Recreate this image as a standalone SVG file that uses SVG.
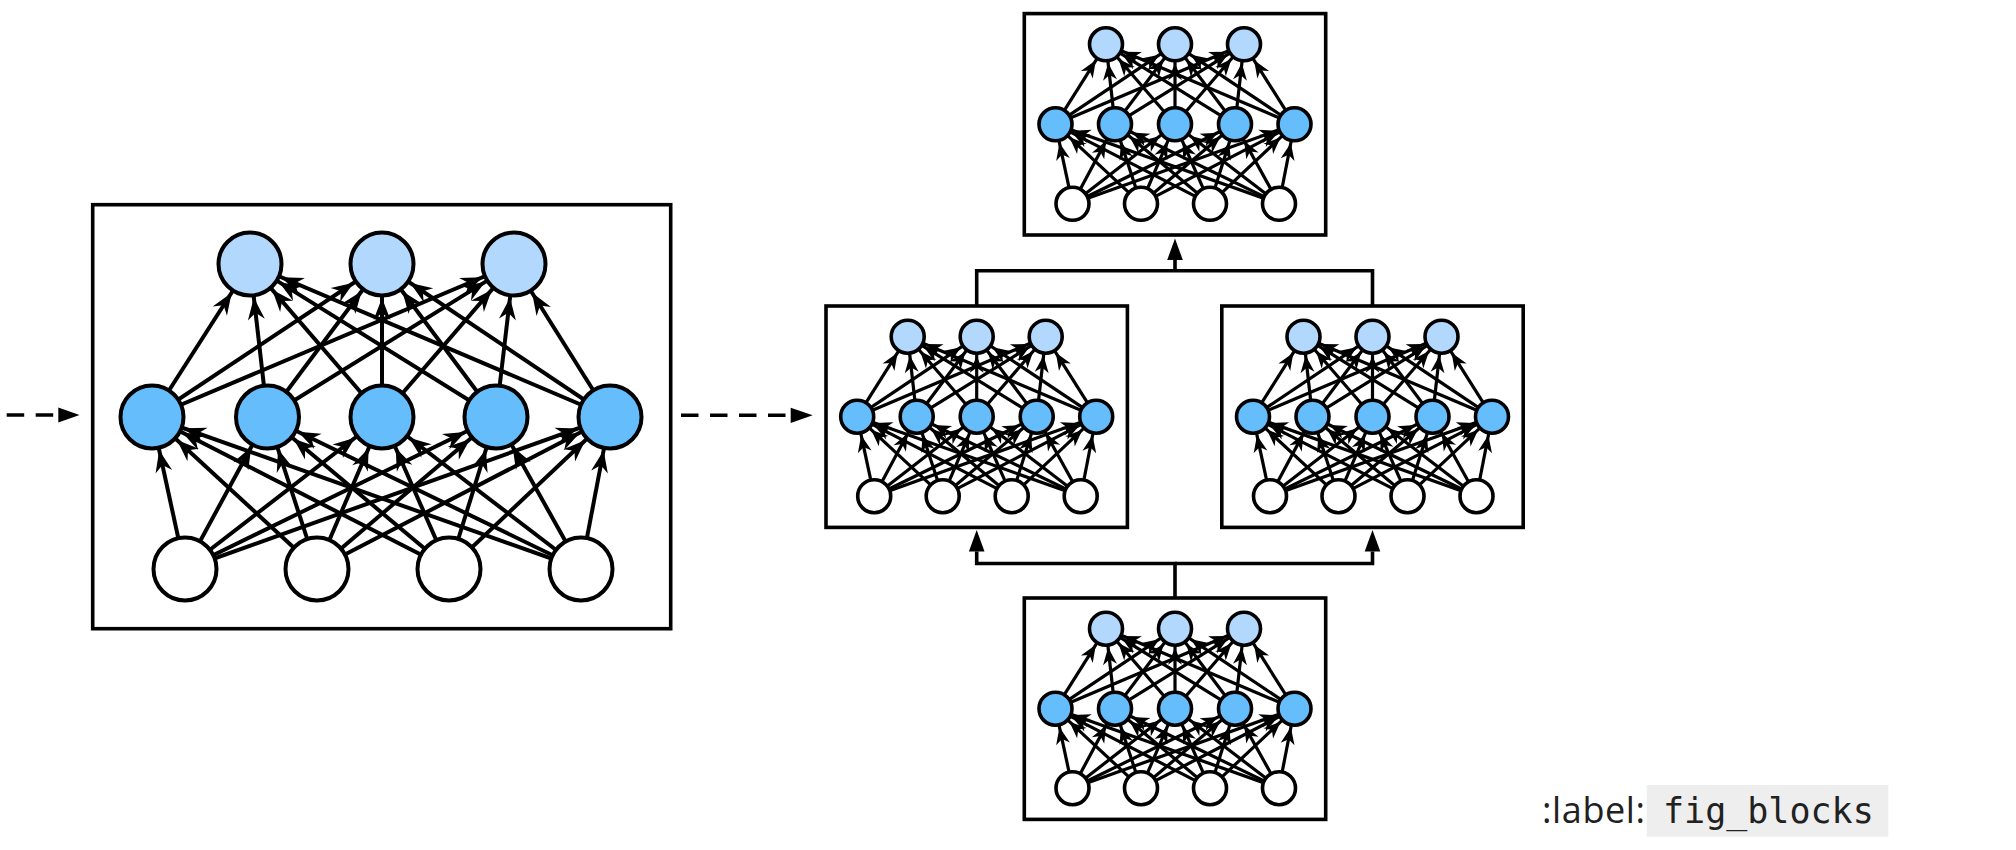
<svg xmlns="http://www.w3.org/2000/svg" xmlns:xlink="http://www.w3.org/1999/xlink" width="2016" height="850" viewBox="0 0 2016 850">
<style>
.box{fill:#fff;stroke:#000}
.out{fill:#b2d8fd;stroke:#000}
.hid{fill:#65bdfc;stroke:#000}
.inp{fill:#fff;stroke:#000}
.head{fill:#000}
.lbl{font-family:"Open Sans","Liberation Sans",sans-serif;font-size:36px;fill:#212121}
.code{font-family:"DejaVu Sans Mono","Liberation Mono",monospace;font-size:35px;fill:#212121}
</style>
<defs>
<marker id="arrowBig" markerUnits="userSpaceOnUse" orient="auto" refX="0" refY="0" markerWidth="70" markerHeight="24" overflow="visible">
<path d="M-34,0 L-56,-8.5 L-49,0 L-56,8.5 Z" fill="#000"/>
</marker>
<marker id="arrowSmall" markerUnits="userSpaceOnUse" orient="auto" refX="0" refY="0" markerWidth="50" markerHeight="18" overflow="visible">
<path d="M-19,0 L-36,-7 L-31,0 L-36,7 Z" fill="#000"/>
</marker>
<marker id="arrowConn" markerUnits="userSpaceOnUse" orient="auto" refX="0" refY="0" markerWidth="24" markerHeight="16" overflow="visible">
<path d="M0,-7.8 L21.5,0 L0,7.8 Z" fill="#000"/>
</marker>
<g id="net-s">
<rect class="box" stroke-width="3.6" x="-150.7" y="-110.7" width="301.4" height="221.4"/>
<g stroke="#000" stroke-width="3.2" marker-end="url(#arrowSmall)">
<line x1="-119.5" y1="0" x2="-69" y2="-80"/>
<line x1="-119.5" y1="0" x2="0" y2="-80"/>
<line x1="-119.5" y1="0" x2="69" y2="-80"/>
<line x1="-60" y1="0" x2="-69" y2="-80"/>
<line x1="-60" y1="0" x2="0" y2="-80"/>
<line x1="-60" y1="0" x2="69" y2="-80"/>
<line x1="0" y1="0" x2="-69" y2="-80"/>
<line x1="0" y1="0" x2="0" y2="-80"/>
<line x1="0" y1="0" x2="69" y2="-80"/>
<line x1="60" y1="0" x2="-69" y2="-80"/>
<line x1="60" y1="0" x2="0" y2="-80"/>
<line x1="60" y1="0" x2="69" y2="-80"/>
<line x1="119.5" y1="0" x2="-69" y2="-80"/>
<line x1="119.5" y1="0" x2="0" y2="-80"/>
<line x1="119.5" y1="0" x2="69" y2="-80"/>
<line x1="-102.5" y1="79.5" x2="-119.5" y2="0"/>
<line x1="-102.5" y1="79.5" x2="-60" y2="0"/>
<line x1="-102.5" y1="79.5" x2="0" y2="0"/>
<line x1="-102.5" y1="79.5" x2="60" y2="0"/>
<line x1="-102.5" y1="79.5" x2="119.5" y2="0"/>
<line x1="-34" y1="79.5" x2="-119.5" y2="0"/>
<line x1="-34" y1="79.5" x2="-60" y2="0"/>
<line x1="-34" y1="79.5" x2="0" y2="0"/>
<line x1="-34" y1="79.5" x2="60" y2="0"/>
<line x1="-34" y1="79.5" x2="119.5" y2="0"/>
<line x1="35" y1="79.5" x2="-119.5" y2="0"/>
<line x1="35" y1="79.5" x2="-60" y2="0"/>
<line x1="35" y1="79.5" x2="0" y2="0"/>
<line x1="35" y1="79.5" x2="60" y2="0"/>
<line x1="35" y1="79.5" x2="119.5" y2="0"/>
<line x1="104" y1="79.5" x2="-119.5" y2="0"/>
<line x1="104" y1="79.5" x2="-60" y2="0"/>
<line x1="104" y1="79.5" x2="0" y2="0"/>
<line x1="104" y1="79.5" x2="60" y2="0"/>
<line x1="104" y1="79.5" x2="119.5" y2="0"/>
</g>
<g stroke-width="3.6">
<circle class="out" cx="-69" cy="-80" r="16.5"/>
<circle class="out" cx="0" cy="-80" r="16.5"/>
<circle class="out" cx="69" cy="-80" r="16.5"/>
<circle class="hid" cx="-119.5" cy="0" r="16.5"/>
<circle class="hid" cx="-60" cy="0" r="16.5"/>
<circle class="hid" cx="0" cy="0" r="16.5"/>
<circle class="hid" cx="60" cy="0" r="16.5"/>
<circle class="hid" cx="119.5" cy="0" r="16.5"/>
<circle class="inp" cx="-102.5" cy="79.5" r="16.5"/>
<circle class="inp" cx="-34" cy="79.5" r="16.5"/>
<circle class="inp" cx="35" cy="79.5" r="16.5"/>
<circle class="inp" cx="104" cy="79.5" r="16.5"/>
</g>
</g>
</defs>

<g id="connectors" fill="none" stroke="#000" stroke-width="3.6">
<line stroke-dasharray="17.5 11.5" x1="6.7" y1="415" x2="58.3" y2="415"/>
<polygon class="head" stroke="none" points="58.3,407.4 79.5,415 58.3,422.6"/>
<line stroke-dasharray="17.5 11.5" x1="681" y1="415.3" x2="790.7" y2="415.3"/>
<polygon class="head" stroke="none" points="790.7,407.7 812.7,415.3 790.7,422.9"/>
<path marker-end="url(#arrowConn)" d="M1175,598 V563.5 H976.7 V551.5"/>
<path marker-end="url(#arrowConn)" d="M1175,563.5 H1372.5 V551.5"/>
<path d="M976.7,306 V270.7 H1372.5 V306"/>
<path marker-end="url(#arrowConn)" d="M1175,270.7 V260"/>
</g>

<g id="block-big">
<rect class="box" stroke-width="3.6" x="92.7" y="204.7" width="578" height="424"/>
<g stroke="#000" stroke-width="4" marker-end="url(#arrowBig)">
<line x1="152" y1="417" x2="250" y2="264"/>
<line x1="152" y1="417" x2="382" y2="264"/>
<line x1="152" y1="417" x2="514" y2="264"/>
<line x1="267.5" y1="417" x2="250" y2="264"/>
<line x1="267.5" y1="417" x2="382" y2="264"/>
<line x1="267.5" y1="417" x2="514" y2="264"/>
<line x1="382" y1="417" x2="250" y2="264"/>
<line x1="382" y1="417" x2="382" y2="264"/>
<line x1="382" y1="417" x2="514" y2="264"/>
<line x1="496" y1="417" x2="250" y2="264"/>
<line x1="496" y1="417" x2="382" y2="264"/>
<line x1="496" y1="417" x2="514" y2="264"/>
<line x1="610" y1="417" x2="250" y2="264"/>
<line x1="610" y1="417" x2="382" y2="264"/>
<line x1="610" y1="417" x2="514" y2="264"/>
<line x1="185" y1="569" x2="152" y2="417"/>
<line x1="185" y1="569" x2="267.5" y2="417"/>
<line x1="185" y1="569" x2="382" y2="417"/>
<line x1="185" y1="569" x2="496" y2="417"/>
<line x1="185" y1="569" x2="610" y2="417"/>
<line x1="317" y1="569" x2="152" y2="417"/>
<line x1="317" y1="569" x2="267.5" y2="417"/>
<line x1="317" y1="569" x2="382" y2="417"/>
<line x1="317" y1="569" x2="496" y2="417"/>
<line x1="317" y1="569" x2="610" y2="417"/>
<line x1="449" y1="569" x2="152" y2="417"/>
<line x1="449" y1="569" x2="267.5" y2="417"/>
<line x1="449" y1="569" x2="382" y2="417"/>
<line x1="449" y1="569" x2="496" y2="417"/>
<line x1="449" y1="569" x2="610" y2="417"/>
<line x1="581" y1="569" x2="152" y2="417"/>
<line x1="581" y1="569" x2="267.5" y2="417"/>
<line x1="581" y1="569" x2="382" y2="417"/>
<line x1="581" y1="569" x2="496" y2="417"/>
<line x1="581" y1="569" x2="610" y2="417"/>
</g>
<g stroke-width="4">
<circle class="out" cx="250" cy="264" r="31.5"/>
<circle class="out" cx="382" cy="264" r="31.5"/>
<circle class="out" cx="514" cy="264" r="31.5"/>
<circle class="hid" cx="152" cy="417" r="31.5"/>
<circle class="hid" cx="267.5" cy="417" r="31.5"/>
<circle class="hid" cx="382" cy="417" r="31.5"/>
<circle class="hid" cx="496" cy="417" r="31.5"/>
<circle class="hid" cx="610" cy="417" r="31.5"/>
<circle class="inp" cx="185" cy="569" r="31.5"/>
<circle class="inp" cx="317" cy="569" r="31.5"/>
<circle class="inp" cx="449" cy="569" r="31.5"/>
<circle class="inp" cx="581" cy="569" r="31.5"/>
</g>
</g>

<g id="block-top"><use href="#net-s" xlink:href="#net-s" transform="translate(1175,124.3)"/></g>
<g id="block-mid-left"><use href="#net-s" xlink:href="#net-s" transform="translate(976.7,416.7)"/></g>
<g id="block-mid-right"><use href="#net-s" xlink:href="#net-s" transform="translate(1372.5,416.7)"/></g>
<g id="block-bottom"><use href="#net-s" xlink:href="#net-s" transform="translate(1175,708.7)"/></g>

<g id="label">
<text class="lbl" x="1542" y="822.7" textLength="103" lengthAdjust="spacing">:label:</text>
<rect x="1646.7" y="785" width="241.6" height="51.7" fill="#eeeeee"/>
<text class="code" x="1663" y="823">fig_blocks</text>
</g>
</svg>
